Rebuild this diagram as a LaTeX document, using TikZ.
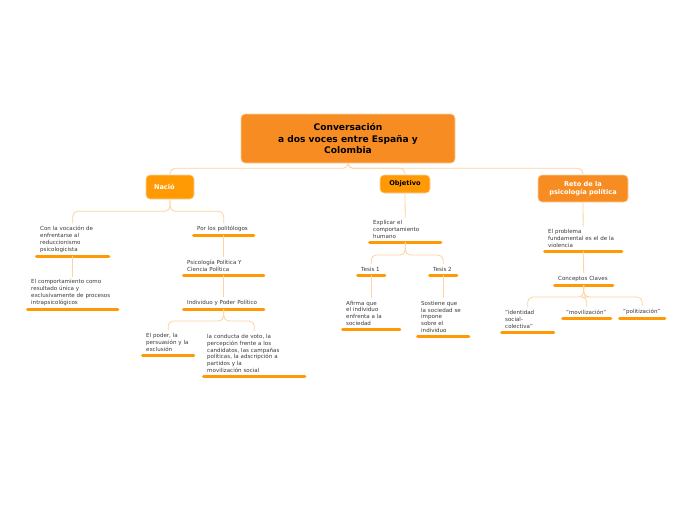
\documentclass[tikz,border=0pt]{standalone}
\usepackage{fontspec}
\setmainfont{DejaVu Sans}
\usepackage{xcolor}
\definecolor{rootorange}{HTML}{F78D22}
\definecolor{boxorange}{HTML}{FF9A05}
\definecolor{barorange}{HTML}{FF9A05}
\definecolor{linkorange}{HTML}{FDD3A0}
\definecolor{textgray}{HTML}{3A3A3A}
\newcommand{\topicfont}{\fontsize{5.55}{6.9}\selectfont}
\newcommand{\boxfont}{\fontsize{6.6}{8.2}\selectfont\bfseries}
\tikzset{
  link/.style={draw=linkorange, line width=0.8pt, rounded corners=5pt},
  bar/.style={draw=barorange, line width=3pt, line cap=round, shorten <=1.5pt, shorten >=1.5pt},
  topic/.style={anchor=south west, align=left, font=\topicfont, text=textgray,
    inner xsep=5pt, inner ysep=3pt,
    append after command={(\tikzlastnode.south west) edge[bar] (\tikzlastnode.south east)}},
  mainbox/.style={rounded corners=4pt, draw=linkorange, line width=0.6pt, align=center}
}
\begin{document}
\begin{tikzpicture}[x=1pt, y=-1pt]
\useasboundingbox[fill=white] (0,0) rectangle (696,520);
% central topic and main branches
\node[mainbox, fill=rootorange, minimum width=214pt, minimum height=49pt,
  font=\fontsize{9.1}{11.5}\selectfont\bfseries] (root) at (348,138.5)
  {Conversación\\a dos voces entre España y\\Colombia};
\node[mainbox, fill=boxorange, minimum width=48pt, minimum height=24pt, text width=32pt,
  align=left, inner xsep=8pt, text=white, font=\boxfont] (nacio) at (170,187) {Nació};
\node[mainbox, fill=boxorange, minimum width=50pt, minimum height=18pt, font=\boxfont]
  (objetivo) at (405,184) {Objetivo};
\node[mainbox, fill=rootorange, minimum width=90pt, minimum height=27pt, text=white,
  font=\boxfont] (reto) at (583,188.5) {Reto de la\\psicología política};
% left branch
\node[topic, text width=65pt] (vocacion) at (35,256)
  {Con la vocación de\\enfrentarse al\\reduccionismo\\psicologicista};
\node[topic, text width=83pt] (comport) at (26,309)
  {El comportamiento como\\resultado única y\\exclusivamente de procesos\\intrapsicológicos};
\node[topic, text width=53pt] (politologos) at (192,235) {Por los politólogos};
\node[topic, text width=73pt] (psicopol) at (182,275) {Psicología Política Y\\Ciencia Política};
\node[topic, text width=73pt] (poderpol) at (182,309) {Individuo y Poder Político};
\node[topic, text width=44pt] (persuasion) at (141,355) {El poder, la\\persuasión y la\\exclusión};
\node[topic, text width=94pt] (conducta) at (202,376)
  {la conducta de voto, la\\percepción frente a los\\candidatos, las campañas\\políticas, la adscripción a\\partidos y la\\movilización social};
% middle branch
\node[topic, text width=64pt] (explicar) at (368,242) {Explicar el\\comportamiento\\humano};
\node[topic, text width=20pt] (tesisA) at (356,275) {Tesis 1};
\node[topic, text width=20pt] (tesisB) at (428,275) {Tesis 2};
\node[topic, text width=50pt] (afirma) at (341,329) {Afirma que\\el individuo\\enfrenta a la\\sociedad};
\node[topic, text width=44pt] (sostiene) at (416,336)
  {Sostiene que\\la sociedad se\\impone\\sobre el\\individuo};
% right branch
\node[topic, text width=70pt] (problema) at (543,251)
  {El problema\\fundamental es el de la\\violencia};
\node[topic, text width=51pt] (conceptos) at (553,285) {Conceptos Claves};
\node[topic, text width=45pt] (identidad) at (500,332) {"identidad\\social-\\colectiva"};
\node[topic, text width=41pt] (moviliz) at (561,318) {"movilización"};
\node[topic, text width=38pt] (politiz) at (618,318) {"politización"};
% connectors
\foreach \child in {nacio,objetivo,reto}
  \draw[link] (root.south) -- ++(0,5) -| (\child.north);
\foreach \child in {vocacion,politologos}
  \draw[link] (nacio.south) -- ++(0,12) -| (\child.north);
\foreach \child in {persuasion,conducta}
  \draw[link] (poderpol.south) -- ++(0,12) -| (\child.north);
\foreach \child in {tesisA,tesisB}
  \draw[link] (explicar.south) -- ++(0,13) -| (\child.north);
\foreach \child in {identidad,moviliz,politiz}
  \draw[link] (conceptos.south) -- ++(0,12) -| (\child.north);
\draw[link] (vocacion.south) -- (comport.north);
\draw[link] (politologos.south) -- (psicopol.north);
\draw[link] (psicopol.south) -- (poderpol.north);
\draw[link] (objetivo.south) -- (explicar.north);
\draw[link] (tesisA.south) -- (afirma.north);
\draw[link] (tesisB.south) -- (sostiene.north);
\draw[link] (reto.south) -- (problema.north);
\draw[link] (problema.south) -- (conceptos.north);
\end{tikzpicture}
\end{document}
